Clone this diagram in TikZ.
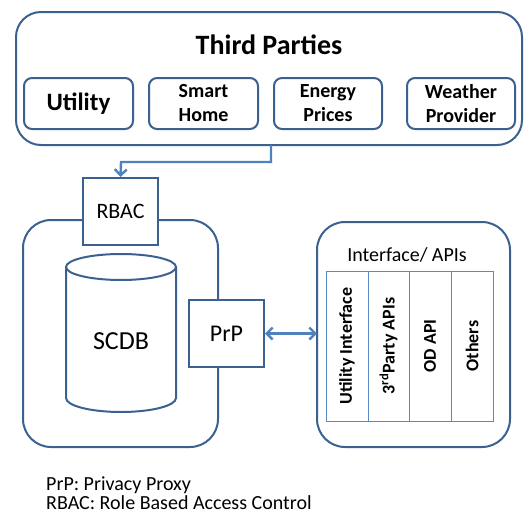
\documentclass[tikz,border=0pt]{standalone}
\usepackage{fontspec}
\setmainfont{Carlito}
\usetikzlibrary{arrows.meta,shapes.geometric}
\definecolor{bord}{HTML}{3A6190}
\definecolor{arr}{HTML}{4F81BD}
\definecolor{col}{HTML}{5A8AC6}
\begin{document}
\begin{tikzpicture}[x=1pt,y=-1pt,
  bigbox/.style={draw=bord,line width=2pt,rounded corners=28pt},
  tpbox/.style={draw=bord,line width=2pt,rounded corners=8pt,align=center,inner sep=0pt,font=\fontsize{20}{24}\selectfont\bfseries},
  sqbox/.style={draw=bord,line width=2pt,fill=white},
  colbox/.style={draw=col,line width=1pt},
  coltext/.style={rotate=90,font=\fontsize{18}{20}\selectfont\bfseries},
  conn/.style={draw=arr,line width=2.4pt,-{Straight Barb[length=6pt,width=12pt]}}]
\useasboundingbox (0,0) rectangle (525,514);
% Third parties
\draw[bigbox,rounded corners=25pt] (16,12) rectangle (522,145);
\node[font=\fontsize{28}{32}\selectfont\bfseries] (tp) at (269,45) {Third Parties};
\node[tpbox,minimum width=109pt,minimum height=51pt,font=\fontsize{25}{28}\selectfont\bfseries] (util) at (78.5,103.5) {Utility};
\node[tpbox,minimum width=109pt,minimum height=51pt] (smart) at (203.5,103.5) {Smart\\Home};
\node[tpbox,minimum width=108pt,minimum height=51pt] (energy) at (328,103.5) {Energy\\Prices};
\node[tpbox,minimum width=108pt,minimum height=51pt] (weather) at (461,103.5) {Weather\\Provider};
\coordinate (tpout) at (271,145);
% left box
\draw[bigbox] (23,220) rectangle (218,447);
\node[sqbox,minimum width=75pt,minimum height=67pt,font=\fontsize{22}{26}\selectfont] (rbac) at (120.5,211.5) {RBAC};
% cylinder
\draw[bord,line width=2pt] (66,267) -- (66,398) arc[start angle=180,end angle=360,x radius=55,y radius=-14] -- (176,267);
\draw[bord,line width=2pt] (121,267) ellipse[x radius=55,y radius=13];
\node[font=\fontsize{26}{30}\selectfont] (scdb) at (121,341) {SCDB};
\node[sqbox,minimum width=75pt,minimum height=67pt,font=\fontsize{24}{28}\selectfont] (prp) at (226.5,333.5) {PrP};
% right box
\draw[bigbox] (317,222) rectangle (510,447);
\node[font=\fontsize{20}{24}\selectfont] (iface) at (407,255) {Interface/ APIs};
\draw[colbox] (326,271) rectangle (493,421);
\draw[colbox] (368,271) -- (368,421);
\draw[colbox] (409,271) -- (409,421);
\draw[colbox] (451,271) -- (451,421);
\node[coltext] (c1) at (347,346) {Utility Interface};
\node[coltext] (c2) at (388.5,346) {3\textsuperscript{rd}Party APIs};
\node[coltext] (c3) at (430,346) {OD API};
\node[coltext] (c4) at (472,346) {Others};
\coordinate (ifl) at (317,333.5);
% connectors
\draw[conn] (tpout) -- (271,162) -- (121,162) -- (rbac.north);
\draw[conn,{Straight Barb[length=6pt,width=12pt]}-{Straight Barb[length=6pt,width=12pt]}] (prp.east) -- (ifl);
% legend
\node[font=\fontsize{20}{20}\selectfont,anchor=base west,inner sep=1pt] (l1) at (45,490) {PrP: Privacy Proxy};
\node[font=\fontsize{20}{20}\selectfont,anchor=base west,inner sep=1pt] (l2) at (45,509) {RBAC: Role Based Access Control};
\end{tikzpicture}
\end{document}
